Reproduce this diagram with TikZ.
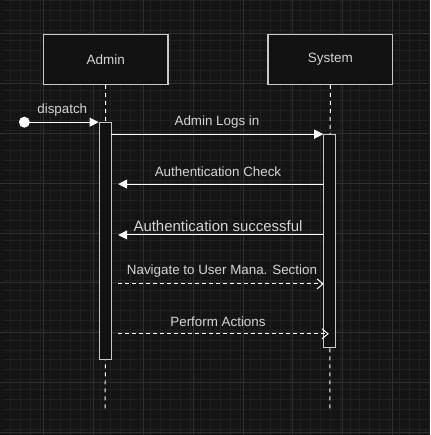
\documentclass[tikz,border=0pt]{standalone}
\usepackage{fontspec}
\setmainfont{Liberation Sans}
\usetikzlibrary{arrows.meta}

\definecolor{bgdark}{HTML}{141414}
\definecolor{gridminor}{HTML}{202020}
\definecolor{gridmajor}{HTML}{303030}
\definecolor{boxfill}{HTML}{121212}
\definecolor{edge}{HTML}{C8C8C8}
\definecolor{ink}{HTML}{D4D4D4}

\tikzset{
  actor/.style={draw=edge, fill=boxfill, line width=1.2pt, minimum width=125pt, minimum height=50pt, inner sep=0pt, text=ink, font=\fontsize{13.5}{16}\selectfont},
  activation/.style={draw=edge, fill=boxfill, line width=1.2pt, minimum width=12pt, inner sep=0pt},
  lifeline/.style={draw=white, line width=1pt, dash pattern=on 4pt off 4pt},
  msg/.style={draw=white, line width=1pt, -{Triangle[length=9pt,width=9pt]}},
  reply/.style={draw=white, line width=1pt, dash pattern=on 4pt off 3pt, -{Straight Barb[length=6pt,width=10pt]}},
  msglabel/.style={text=ink, inner sep=0pt, font=\fontsize{13.4}{16}\selectfont}
}

\begin{document}
\begin{tikzpicture}[x=1pt, y=-1pt, line cap=butt]

  % ════ canvas + grid ════
  \fill[bgdark] (0,0) rectangle (430,435);
  \draw[gridminor, line width=0.5pt] (3,0) grid[step=10pt] (430,435);
  \foreach \gx in {43,93,...,393} \draw[gridmajor, line width=0.8pt] (\gx,0) -- (\gx,435);
  \foreach \gy in {33,83,...,433} \draw[gridmajor, line width=0.8pt] (0,\gy) -- (430,\gy);

  % ════ participants ════
  \node[actor] (admin) at (105.5,59) {Admin};
  \node[actor] (system) at (330.5,59) {System};

  % ════ lifelines ════
  \coordinate (adminend) at (105,409);
  \coordinate (systemend) at (330,409);
  \draw[lifeline] (admin.south) -- (adminend);
  \draw[lifeline] (system.south) -- (systemend);

  % ════ activation bars ════
  \node[activation, minimum height=237pt, anchor=north] (adminact) at (105,122) {};
  \node[activation, minimum height=213pt, anchor=north] (systemact) at (330,134) {};

  % ════ dispatch ════
  \fill[white] (24,122) circle (5.5);
  \coordinate (start) at (24,122);
  \draw[msg] (start) -- (adminact.north west);
  \node[msglabel] (dispatchlbl) at (62,110) {dispatch};

  % ════ messages ════
  \coordinate (m1a) at (111,134);
  \draw[msg] (m1a) -- (systemact.north west);
  \node[msglabel] (m1lbl) at (217,122) {Admin Logs in};

  \coordinate (m2a) at (324,184);
  \coordinate (m2b) at (118,184);
  \draw[msg] (m2a) -- (m2b);
  \node[msglabel] (m2lbl) at (218,172) {Authentication Check};

  \coordinate (m3a) at (324,235);
  \coordinate (m3b) at (118,235);
  \draw[msg] (m3a) -- (m3b);
  \node[msglabel, font=\fontsize{15}{18}\selectfont] (m3lbl) at (218,226) {Authentication successful};

  % ════ dashed returns ════
  \coordinate (m4a) at (118,284);
  \coordinate (m4b) at (324,284);
  \draw[reply] (m4a) -- (m4b);
  \node[msglabel] (m4lbl) at (222,271) {Navigate to User Mana. Section};

  \coordinate (m5a) at (118,334);
  \coordinate (m5b) at (329,334);
  \draw[reply] (m5a) -- (m5b);
  \node[msglabel] (m5lbl) at (218,322) {Perform Actions};

  \path[use as bounding box] (0,0) rectangle (430,435);
\end{tikzpicture}
\end{document}
